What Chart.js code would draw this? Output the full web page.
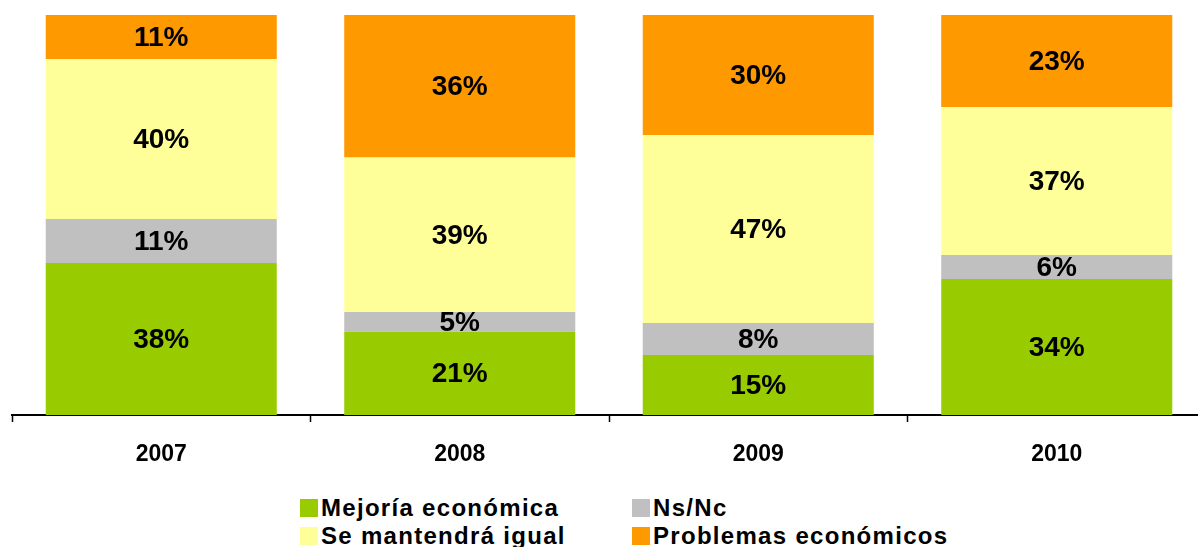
<!DOCTYPE html>
<html>
<head>
<meta charset="utf-8">
<script src="https://cdn.jsdelivr.net/npm/chart.js@4"></script>
<style>
  body { margin: 0; width: 1198px; height: 547px; overflow: hidden; background: #fff; font-family: "Liberation Sans", Arial, sans-serif; }
  .wrap { position: absolute; left: 0; top: 0; width: 1210px; height: 480px; }
  .legend-item { position: absolute; height: 18px; line-height: 18px; font-weight: bold; font-size: 24px; letter-spacing: 1.3px; color: #000; white-space: nowrap; }
  .legend-item span.box { position: absolute; left: 0; top: 0; width: 18px; height: 18px; }
  .legend-item span.txt { position: absolute; left: 21px; top: 0; }
</style>
</head>
<body>
<div class="wrap"><canvas id="opinionChart" width="1210" height="480"></canvas></div>
<div id="legend"></div>
<script>
const years = ['2007', '2008', '2009', '2010'];
const mejoria = [38, 21, 15, 34];
const nsnc = [11, 5, 8, 6];
const igual = [40, 39, 47, 37];
const problemas = [11, 36, 30, 23];

const seriesNames = ['Mejoría económica', 'Ns/Nc', 'Se mantendrá igual', 'Problemas económicos'];
const seriesColors = ['#99CC00', '#C0C0C0', '#FFFF99', '#FF9900'];
const seriesValues = [mejoria, nsnc, igual, problemas];

// 100% stacked: each column is scaled to its own total
const totals = years.map((y, i) => seriesValues.reduce((s, arr) => s + arr[i], 0));

const datasets = seriesValues.map((vals, k) => ({
  label: seriesNames[k],
  backgroundColor: seriesColors[k],
  borderWidth: 0,
  data: vals.map((v, i) => v / totals[i] * 100),
  raw: vals,
  barPercentage: 0.774,
  categoryPercentage: 1.0,
}));

const barLabels = {
  id: 'barLabels',
  afterDatasetsDraw(chart) {
    const ctx = chart.ctx;
    ctx.save();
    ctx.font = 'bold 28px "Liberation Sans", Arial, sans-serif';
    ctx.fillStyle = '#000';
    ctx.textAlign = 'center';
    ctx.textBaseline = 'middle';
    chart.data.datasets.forEach((ds, di) => {
      chart.getDatasetMeta(di).data.forEach((bar, i) => {
        const yMid = (bar.y + bar.base) / 2;
        ctx.fillText(ds.raw[i] + '%', bar.x, yMid + 1);
      });
    });
    ctx.restore();
  },
};

new Chart(document.getElementById('opinionChart'), {
  type: 'bar',
  data: { labels: years, datasets: datasets },
  plugins: [barLabels],
  options: {
    responsive: false,
    animation: false,
    layout: { padding: { left: 12, right: 4, top: 15, bottom: 0 } },
    plugins: {
      legend: { display: false },
      tooltip: { enabled: false },
    },
    scales: {
      x: {
        stacked: true,
        afterFit: scale => { scale.height = 65; },
        grid: {
          offset: true,
          drawOnChartArea: false,
          drawTicks: true,
          tickLength: 7,
          tickWidth: 1.5,
          tickColor: '#000',
        },
        border: { color: '#000', width: 2 },
        ticks: {
          color: '#000',
          padding: 19,
          font: { family: '"Liberation Sans", Arial, sans-serif', size: 23, weight: 'bold' },
        },
      },
      y: {
        stacked: true,
        display: false,
        min: 0,
        max: 100,
      },
    },
  },
});

// legend, two columns like the original
const legendPos = [
  { left: 300, top: 499 },
  { left: 632, top: 499 },
  { left: 300, top: 527 },
  { left: 632, top: 527 },
];
const legendEl = document.getElementById('legend');
seriesNames.forEach((name, k) => {
  const item = document.createElement('div');
  item.className = 'legend-item';
  item.style.left = legendPos[k].left + 'px';
  item.style.top = legendPos[k].top + 'px';
  item.innerHTML = '<span class="box" style="background:' + seriesColors[k] + '"></span><span class="txt">' + name + '</span>';
  legendEl.appendChild(item);
});
</script>
</body>
</html>
